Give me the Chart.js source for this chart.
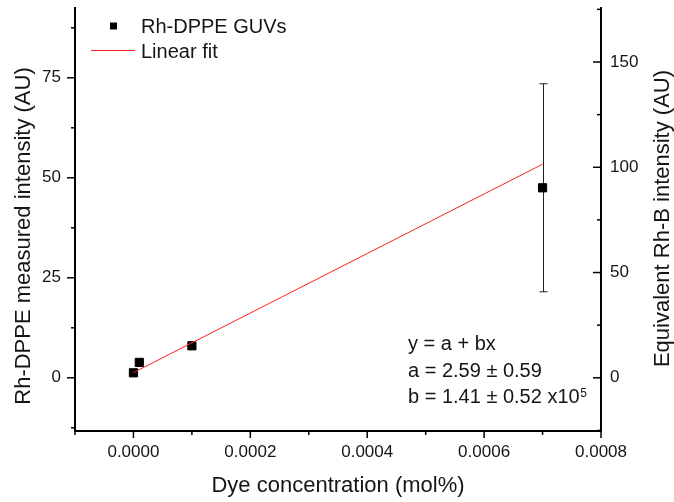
<!DOCTYPE html>
<html>
<head>
<meta charset="utf-8">
<script src="https://cdn.jsdelivr.net/npm/chart.js@4.4.0/dist/chart.umd.min.js"></script>
<style>
  html, body { margin: 0; padding: 0; background: #fff; }
</style>
</head>
<body>
<canvas id="dyeChart" width="674" height="502"></canvas>
<script>
const dyeConc = [0, 0.00001, 0.0001, 0.0007];
const measuredIntensity = [1.25, 3.85, 8.0, 47.5];
const intensityErr = [0, 0, 0, 26];

// linear fit end points
const fitConc = [0, 0.0007];
const fitIntensity = [1.3, 53.4];

// axis ticks
const xMajor = [0, 0.0002, 0.0004, 0.0006, 0.0008];
const xMinor = [-0.0001, 0.0001, 0.0003, 0.0005, 0.0007];
const yMajor = [0, 25, 50, 75];
const yMinor = [-12.5, 12.5, 37.5, 62.5, 87.5];
const y2Major = [0, 50, 100, 150];
const y2Minor = [-25, 25, 75, 125, 175];
const rhbFactor = 1.9; // right axis = left axis * factor

const fitText = ["y = a + bx", "a = 2.59 \u00b1 0.59", "b = 1.41 \u00b1 0.52 x10"];
const fitExp = "5";

const FONT = "'Liberation Sans', Arial, sans-serif";
const TXT = "#151515";
const yMin = -13.3, yMax = 92.45;

const ctx = document.getElementById('dyeChart');

function noPad(s) {
    s.paddingLeft = 0; s.paddingRight = 0;
    s.paddingTop = 0; s.paddingBottom = 0;
}

function drawTicks(c, scale, values, len, horiz, base, dir) {
    values.forEach(v => {
        const p = scale.getPixelForValue(v);
        c.beginPath();
        if (horiz) {
            c.moveTo(p, base);
            c.lineTo(p, base + dir * len);
        } else {
            c.moveTo(base, p);
            c.lineTo(base + dir * len, p);
        }
        c.stroke();
    });
}

// error bars, drawn under the squares
const errorBars = {
    id: 'errorBars',
    beforeDatasetsDraw(chart) {
        const c = chart.ctx, x = chart.scales.x, y = chart.scales.y;
        c.save();
        c.strokeStyle = '#222';
        c.lineWidth = 1;
        dyeConc.forEach((v, i) => {
            if (!intensityErr[i]) return;
            const px = Math.round(x.getPixelForValue(v)) + 0.5;
            const top = y.getPixelForValue(measuredIntensity[i] + intensityErr[i]);
            const bot = y.getPixelForValue(measuredIntensity[i] - intensityErr[i]);
            c.beginPath();
            c.moveTo(px, top); c.lineTo(px, bot);
            c.moveTo(px - 4, top); c.lineTo(px + 4, top);
            c.moveTo(px - 4, bot); c.lineTo(px + 4, bot);
            c.stroke();
        });
        c.restore();
    }
};

// ticks, legend, titles and the fit box
const extras = {
    id: 'extras',
    afterDraw(chart) {
        const c = chart.ctx;
        const a = chart.chartArea;
        const s = chart.scales;
        c.save();
        c.strokeStyle = '#000';
        c.lineWidth = 1.5;
        drawTicks(c, s.x, xMajor, 7, true, a.bottom, 1);
        drawTicks(c, s.x, xMinor, 4, true, a.bottom, 1);
        drawTicks(c, s.y, yMajor, 8, false, a.left, -1);
        drawTicks(c, s.y, yMinor, 4, false, a.left, -1);
        drawTicks(c, s.y2, y2Major, 8, false, a.right, -1);
        drawTicks(c, s.y2, y2Minor, 4, false, a.right, -1);

        // legend
        const ds = chart.data.datasets;
        c.fillStyle = '#000';
        c.fillRect(110, 22.5, 7, 7);
        c.strokeStyle = '#ff2020';
        c.lineWidth = 1;
        c.beginPath();
        c.moveTo(91, 50.5); c.lineTo(135, 50.5);
        c.stroke();
        c.fillStyle = TXT;
        c.font = "20px " + FONT;
        c.textBaseline = 'alphabetic';
        c.textAlign = 'left';
        c.fillText(ds[0].label, 141, 32.5);
        c.fillText(ds[1].label, 141, 57.5);

        // fit parameters
        c.fillText(fitText[0], 408, 350);
        c.fillText(fitText[1], 408, 376.5);
        c.fillText(fitText[2], 408, 403);
        const w = c.measureText(fitText[2]).width;
        c.font = "12px " + FONT;
        c.fillText(fitExp, 408 + w + 0.5, 396.5);

        // axis titles
        c.font = "22px " + FONT;
        c.textAlign = 'center';
        c.fillText("Dye concentration (mol%)", (a.left + a.right) / 2, 492);
        c.translate(29.5, 236);
        c.rotate(-Math.PI / 2);
        c.fillText("Rh-DPPE measured intensity (AU)", 0, 0);
        c.setTransform(1, 0, 0, 1, 0, 0);
        c.translate(669, 218.5);
        c.rotate(-Math.PI / 2);
        c.fillText("Equivalent Rh-B intensity (AU)", 0, 0);
        c.restore();
    }
};

const tickFont = { family: FONT, size: 17 };

new Chart(ctx, {
    type: 'scatter',
    data: {
        datasets: [{
            label: 'Rh-DPPE GUVs',
            data: dyeConc.map((v, i) => ({ x: v, y: measuredIntensity[i] })),
            pointStyle: 'rect',
            pointRadius: 5.8,
            backgroundColor: '#000',
            borderColor: '#000',
            borderWidth: 1,
            order: 1
        }, {
            label: 'Linear fit',
            data: fitConc.map((v, i) => ({ x: v, y: fitIntensity[i] })),
            showLine: true,
            borderColor: '#ff2020',
            borderWidth: 1,
            pointRadius: 0,
            order: 0
        }]
    },
    options: {
        responsive: false,
        animation: false,
        devicePixelRatio: 1,
        layout: { padding: { top: 8, left: 0, right: 0, bottom: 0 } },
        plugins: {
            legend: { display: false },
            tooltip: { enabled: false }
        },
        scales: {
            x: {
                type: 'linear',
                position: 'bottom',
                min: -0.0001,
                max: 0.0008,
                afterBuildTicks: sc => { sc.ticks = xMajor.map(v => ({ value: v })); },
                ticks: {
                    callback: v => v.toFixed(4),
                    padding: 11,
                    font: tickFont,
                    color: TXT,
                    maxRotation: 0,
                    autoSkip: false
                },
                grid: { display: false, drawTicks: false },
                border: { display: true, color: '#000', width: 2 },
                afterFit: sc => { sc.height = 71; noPad(sc); }
            },
            y: {
                type: 'linear',
                position: 'left',
                min: yMin,
                max: yMax,
                afterBuildTicks: sc => { sc.ticks = yMajor.map(v => ({ value: v })); },
                ticks: { padding: 14, font: tickFont, color: TXT },
                grid: { display: false, drawTicks: false },
                border: { display: true, color: '#000', width: 2 },
                afterFit: sc => { sc.width = 75; noPad(sc); }
            },
            y2: {
                type: 'linear',
                position: 'right',
                min: yMin * rhbFactor,
                max: yMax * rhbFactor,
                afterBuildTicks: sc => { sc.ticks = y2Major.map(v => ({ value: v })); },
                ticks: { padding: 9, font: tickFont, color: TXT },
                grid: { display: false, drawTicks: false },
                border: { display: true, color: '#000', width: 2 },
                afterFit: sc => { sc.width = 73; noPad(sc); }
            }
        }
    },
    plugins: [errorBars, extras]
});
</script>
</body>
</html>
